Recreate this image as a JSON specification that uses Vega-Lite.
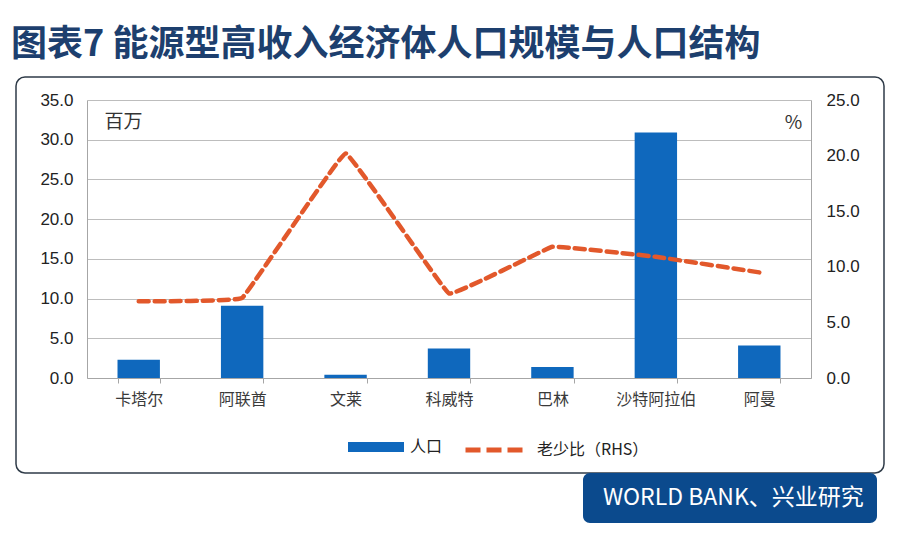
{
  "$schema": "https://vega.github.io/schema/vega-lite/v6.json",
  "autosize": {"type": "none"},
  "width": 868,
  "height": 396,
  "padding": {"left": 16, "top": 77, "right": 16, "bottom": 63},
  "background": "white",
  "title": {
    "text": "图表7 能源型高收入经济体人口规模与人口结构",
    "anchor": "start",
    "frame": "group",
    "font": "Noto Sans CJK SC",
    "fontSize": 36,
    "fontWeight": "bold",
    "color": "#1d3f6e",
    "baseline": "bottom",
    "offset": 14,
    "dy": 37,
    "dx": -5
  },
  "config": {
    "view": {"stroke": "#2f3b48", "strokeWidth": 1.5, "cornerRadius": 9},
    "axis": {"labelColor": "#222222", "domainColor": "#a6a6a6", "gridColor": "#bdbdbd", "tickColor": "#a6a6a6"}
  },
  "data": {
    "values": [
      {"国家": "卡塔尔", "人口": 2.3, "老少比": 6.9},
      {"国家": "阿联酋", "人口": 9.1, "老少比": 7.2},
      {"国家": "文莱", "人口": 0.4, "老少比": 20.2},
      {"国家": "科威特", "人口": 3.7, "老少比": 7.6},
      {"国家": "巴林", "人口": 1.4, "老少比": 11.8},
      {"国家": "沙特阿拉伯", "人口": 30.9, "老少比": 10.9},
      {"国家": "阿曼", "人口": 4.1, "老少比": 9.5}
    ]
  },
  "encoding": {
    "x": {
      "field": "国家",
      "type": "nominal",
      "sort": null,
      "scale": {"range": [71, 795], "paddingInner": 0.59, "paddingOuter": 0.295},
      "axis": {
        "orient": "bottom",
        "offset": -95,
        "title": null,
        "labelAngle": 0,
        "labelFont": "Noto Sans CJK SC",
        "labelFontSize": 16,
        "labelColor": "#3a3a3a",
        "labelPadding": 8,
        "tickBand": "extent",
        "tickSize": 5,
        "domainColor": "#a6a6a6",
        "grid": false
      }
    }
  },
  "layer": [
    {
      "mark": {"type": "bar"},
      "encoding": {
        "y": {
          "field": "人口",
          "type": "quantitative",
          "scale": {"domain": [0, 35], "range": [301, 23], "nice": false, "zero": true},
          "axis": {
            "orient": "left",
            "offset": -71,
            "values": [0, 5, 10, 15, 20, 25, 30, 35],
            "format": ".1f",
            "labelFont": "Liberation Sans",
            "labelFontSize": 17,
            "labelPadding": 14,
            "ticks": false,
            "tickSize": 0,
            "grid": true,
            "gridColor": "#bdbdbd",
            "gridWidth": 1.2,
            "domainColor": "#a6a6a6",
            "title": "百万",
            "titleAngle": 0,
            "titleAlign": "left",
            "titleBaseline": "middle",
            "titleX": 17,
            "titleY": 44,
            "titleFont": "Noto Sans CJK SC",
            "titleFontSize": 19,
            "titleFontWeight": "normal",
            "titleColor": "#333333"
          }
        },
        "fill": {
          "datum": "人口",
          "type": "nominal",
          "scale": {"range": ["#0f68bd"]},
          "legend": {
            "title": null,
            "orient": "none",
            "legendX": 332,
            "legendY": 342,
            "padding": 0,
            "symbolType": "M-1,-0.18H1V0.18H-1Z",
            "symbolSize": 3136,
            "symbolStrokeWidth": 0,
            "labelOffset": 6,
            "labelFont": "Noto Sans CJK SC",
            "labelFontSize": 16,
            "labelColor": "#222222"
          }
        },
        "opacity": {
          "datum": "WORLD BANK、兴业研究",
          "type": "ordinal",
          "scale": {"range": [1]},
          "legend": {
            "title": null,
            "orient": "none",
            "legendX": 567,
            "legendY": 396,
            "padding": 13,
            "fillColor": "#0b4a8d",
            "cornerRadius": 7,
            "symbolType": "circle",
            "symbolSize": 1,
            "symbolFillColor": "#0b4a8d",
            "symbolStrokeColor": "#0b4a8d",
            "symbolStrokeWidth": 0,
            "labelOffset": -16,
            "labelFont": "Noto Sans CJK SC",
            "labelFontSize": 23,
            "labelColor": "#ffffff",
            "labelLimit": 600
          }
        }
      }
    },
    {
      "mark": {
        "type": "line",
        "interpolate": "cardinal",
        "tension": 0.85,
        "strokeWidth": 4.5,
        "strokeDash": [10, 6],
        "strokeCap": "round"
      },
      "encoding": {
        "y": {
          "field": "老少比",
          "type": "quantitative",
          "scale": {"domain": [0, 25], "range": [301, 23], "nice": false, "zero": true},
          "axis": {
            "orient": "right",
            "offset": -73,
            "values": [0, 5, 10, 15, 20, 25],
            "format": ".1f",
            "labelFont": "Liberation Sans",
            "labelFontSize": 17,
            "labelPadding": 15,
            "ticks": false,
            "tickSize": 0,
            "grid": false,
            "domainColor": "#a6a6a6",
            "title": "%",
            "titleAngle": 0,
            "titleAlign": "center",
            "titleBaseline": "middle",
            "titleX": -18,
            "titleY": 45,
            "titleFont": "Noto Sans CJK SC",
            "titleFontSize": 19,
            "titleFontWeight": "normal",
            "titleColor": "#333333"
          }
        },
        "stroke": {
          "datum": "老少比（RHS）",
          "type": "nominal",
          "scale": {"range": ["#e2582b"]},
          "legend": {
            "title": null,
            "orient": "none",
            "legendX": 447,
            "legendY": 342,
            "padding": 0,
            "symbolType": "stroke",
            "symbolSize": 3249,
            "symbolStrokeWidth": 5,
            "symbolDash": [15, 6],
            "labelOffset": 12,
            "labelFont": "Noto Sans CJK SC",
            "labelFontSize": 16,
            "labelColor": "#222222"
          }
        }
      }
    }
  ],
  "resolve": {"scale": {"y": "independent"}}
}
